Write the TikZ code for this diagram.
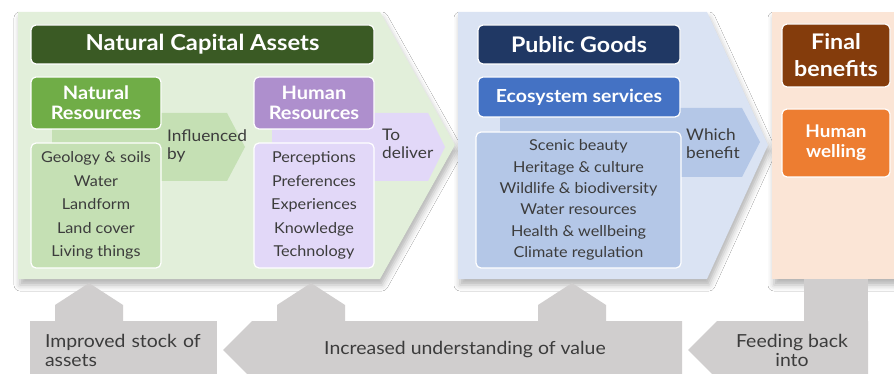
\documentclass[tikz,border=0pt]{standalone}
\usepackage{fontspec}
\setmainfont{Lato}[FakeStretch=1.08]
\usetikzlibrary{shadows.blur}

% palette
\definecolor{pgreen}{HTML}{E2EFDA}
\definecolor{dgreen}{HTML}{3A5A24}
\definecolor{mgreen}{HTML}{70AD47}
\definecolor{lgreen}{HTML}{C5E0B4}
\definecolor{mpurple}{HTML}{AE8FCD}
\definecolor{lpurple}{HTML}{E2D8F8}
\definecolor{pblue}{HTML}{DAE3F3}
\definecolor{dblue}{HTML}{203864}
\definecolor{mblue}{HTML}{4472C4}
\definecolor{lblue}{HTML}{B4C7E7}
\definecolor{porange}{HTML}{FBE5D6}
\definecolor{dbrown}{HTML}{843C0C}
\definecolor{morange}{HTML}{ED7D31}
\definecolor{cgray}{HTML}{D0CECE}
\definecolor{txt}{HTML}{3C3C3C}

\begin{document}
\begin{tikzpicture}[x=1pt,y=-1pt,
  panel/.style={blur shadow={shadow xshift=2pt,shadow yshift=-6pt,shadow blur radius=6pt,shadow opacity=30}},
  box/.style={draw=white,line width=1.2pt,rounded corners=5pt,inner sep=0pt},
  head/.style={box,text=white,align=center,font=\fontsize{18.5}{20}\selectfont\bfseries},
  listbox/.style={box,text=txt,align=center},
  label/.style={anchor=west,align=left,text=txt,inner sep=0pt,font=\fontsize{16}{18}\selectfont},
  graytext/.style={text=txt,inner sep=0pt,font=\fontsize{18}{19}\selectfont},
  grayfill/.style={fill=cgray}
]
\useasboundingbox (0,0) rectangle (894,374);
\clip (0,0) rectangle (894,374);
\fill[white] (0,0) rectangle (894,374);

% ---- background panels ----
\fill[pgreen,panel] (18,12) -- (380,12) -- (455,145) -- (380,279) -- (18,279) -- cycle;
\fill[pblue,panel] (458,12) -- (707,12) -- (768,145) -- (707,279) -- (458,279) -- cycle;
\fill[porange,panel] (772,12) -- (910,12) -- (910,279) -- (772,279) -- cycle;

% ---- inner arrows behind the boxes ----
\fill[lgreen] (52,113) -- (227,113) -- (245,147) -- (227,181) -- (52,181) -- cycle;
\fill[lpurple] (272,113) -- (428,113) -- (445,147) -- (428,181) -- (272,181) -- cycle;
\fill[lblue] (500,108) -- (742,108) -- (760,142) -- (742,177) -- (500,177) -- cycle;

% ---- natural capital assets ----
\node[head,fill=dgreen,minimum width=343,minimum height=39,
      font=\fontsize{22}{24}\selectfont\bfseries] (nca) at (202.5,44.5) {Natural Capital Assets};
\node[head,fill=mgreen,minimum width=130,minimum height=52] (natres) at (96,103) {Natural\\Resources};
\node[listbox,fill=lgreen,minimum width=130,minimum height=125,
      font=\fontsize{15}{23.5}\selectfont] (natlist) at (96,205.5)
      {Geology \& soils\\Water\\Landform\\Land cover\\Living things};
\node[label] (infl) at (167,146) {Influenced\\by};

\node[head,fill=mpurple,minimum width=120,minimum height=52] (humres) at (314,103) {Human\\Resources};
\node[listbox,fill=lpurple,minimum width=120,minimum height=125,
      font=\fontsize{15}{23.5}\selectfont] (humlist) at (314,205.5)
      {Perceptions\\Preferences\\Experiences\\Knowledge\\Technology};
\node[label] (deliver) at (382,144) {To\\deliver};

% ---- public goods ----
\node[head,fill=dblue,minimum width=202,minimum height=39,
      font=\fontsize{21.5}{24}\selectfont\bfseries] (pg) at (579,44.5) {Public Goods};
\node[head,fill=mblue,minimum width=202,minimum height=40,
      font=\fontsize{18}{20}\selectfont\bfseries] (eco) at (579,97) {Ecosystem services};
\node[listbox,fill=lblue,minimum width=205,minimum height=136,
      font=\fontsize{15}{21.4}\selectfont] (ecolist) at (578.5,200)
      {Scenic beauty\\Heritage \& culture\\Wildlife \& biodiversity\\Water resources\\Health \& wellbeing\\Climate regulation};
\node[label] (which) at (686,144) {Which\\benefit};

% ---- final benefits ----
\node[head,fill=dbrown,minimum width=108,minimum height=63,
      font=\fontsize{21.5}{27}\selectfont\bfseries] (fb) at (836,55.5) {Final\\benefits};
\node[head,fill=morange,minimum width=108,minimum height=68,
      font=\fontsize{17.5}{20}\selectfont\bfseries] (hw) at (836,143) {Human\\welling};

% ---- feedback loop along the bottom ----
\fill[grayfill] (55,321) -- (55,305) -- (89,283) -- (123,305) -- (123,321) -- cycle;
\fill[grayfill] (277,321) -- (277,305) -- (311,283) -- (345,305) -- (345,321) -- cycle;
\fill[grayfill] (538,321) -- (538,305) -- (572,283) -- (606,305) -- (606,321) -- cycle;
\fill[grayfill] (804,279) rectangle (868,322);

\node[grayfill,minimum width=187,minimum height=58,inner xsep=15pt,inner ysep=0pt,
      text width=157,align=left,text=txt,font=\fontsize{18}{19}\selectfont] (stock) at (123.5,350)
      {Improved stock of\\assets};

\fill[grayfill] (223,350) -- (252,321) -- (682,321) -- (682,379) -- (252,379) -- cycle;
\node[graytext] (value) at (465,350) {Increased understanding of value};

\fill[grayfill] (688,350) -- (717,321) -- (868,321) -- (868,379) -- (717,379) -- cycle;
\node[graytext,align=center] (feed) at (792,350) {Feeding back\\into};
\end{tikzpicture}
\end{document}
